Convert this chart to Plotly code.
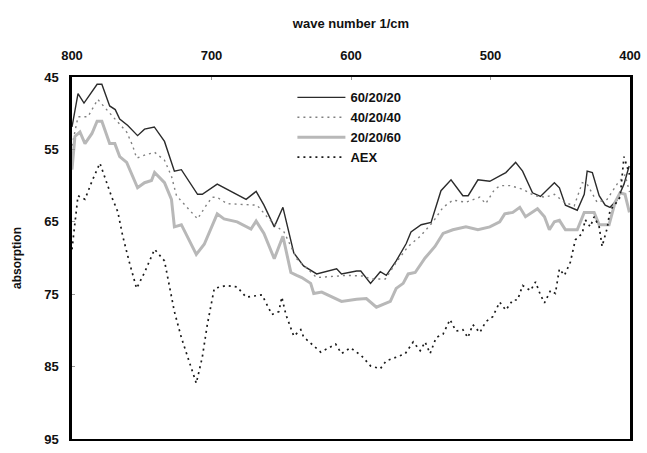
import plotly.graph_objects as go

# 60/20/20
w1 = [800, 795.7, 791.4, 782, 778.6, 773, 769, 765.8, 760, 753, 748, 741, 733.7, 726.6, 721.6, 710, 706.6, 700,
      695.9, 675.2, 668, 662.4, 655, 648.8, 641, 634, 624.6, 610.3, 606.8, 596, 593, 586, 579, 574.7, 567.6,
      560.4, 557, 549.7, 542.6, 535.5, 528.3, 519.8, 516, 509, 500.5, 492.7, 489, 482, 477, 469.9, 464.2,
      454.2, 450.6, 446.3, 437.8, 432.8, 430.7, 427, 422.1, 417.8, 414.3, 409.3, 404.3, 400.6]
v1 = [51.9, 47.3, 48.6, 46, 46, 49, 49.5, 50.8, 51.7, 53.1, 52.2, 51.9, 53.9, 58, 57.8, 61.2, 61.2, 60.3,
      59.8, 61.9, 60.8, 62.7, 65.7, 63, 69.3, 71.1, 72.2, 71.5, 72.2, 71.8, 71.8, 73.5, 71.9, 72.4, 70.4,
      68, 66.4, 65.4, 65.1, 60.7, 59.2, 61.4, 61.4, 59.2, 59.4, 58.6, 58.2, 56.8, 58, 61, 61.5,
      59.6, 60.3, 62.7, 63.4, 61.2, 58, 58.2, 61.4, 62.7, 63, 62, 59.8, 57.3]

# 40/20/40
w2 = [800, 795.7, 788.6, 781.5, 774.3, 768, 760.8, 756.5, 753.7, 748, 740.8, 733.7, 728.7, 725.1, 719.4, 710,
      703.7, 699.5, 696, 688.8, 667.4, 660.2, 653, 648, 638.9, 624.6, 603.2, 591, 586, 575.4, 567.6, 559,
      550.4, 541.2, 534, 526.9, 517.6, 507.7, 503.4, 497, 492.7, 486, 477, 468.4, 460.6, 454.2, 447, 440,
      434.2, 430.7, 423.6, 416.4, 409.3, 403.6, 400.3]
v2 = [54.5, 50.5, 50.5, 48.1, 49.7, 51.1, 52.6, 54.5, 56.2, 55.8, 55.4, 56.5, 58.7, 61.4, 62.6, 64.6,
      62.7, 61.6, 61.6, 62.5, 62.7, 64.3, 65.7, 66.4, 70.1, 72.7, 72.4, 72.5, 72.9, 72.9, 70.6, 68.4,
      67, 65, 63, 62, 62.3, 61.6, 62.5, 60.5, 60, 60, 60.5, 61.4, 61.6, 61.2, 62.3, 62.8,
      59.6, 59.8, 62.3, 61.9, 59.8, 58.5, 60.9]

# 20/20/60
w3 = [800, 797.9, 794.3, 790.7, 785.7, 782, 778.6, 773, 769.3, 765.8, 760.8, 753, 748, 743, 740.8, 733.7,
      728.7, 726.6, 721.6, 710.9, 705.2, 699.5, 695.9, 691, 681.6, 671.7, 668, 662.4, 655, 648.8, 643.1,
      638.9, 635.3, 628.9, 626.7, 621, 606.8, 596, 589, 581.8, 571.8, 567.6, 562.6, 559, 554, 546.9, 539.8,
      534, 527, 517.6, 509, 500.5, 493.4, 489.8, 484, 479, 474.9, 466.3, 461.3, 457.8, 454.2, 450.6, 446.3,
      437.8, 432.8, 425.7, 422.1, 415, 410.7, 407.1, 403.6, 400.4]
v3 = [57.8, 53.2, 52.6, 54.2, 52.8, 51.1, 51.1, 54.2, 54.2, 56, 56.8, 60.3, 59.6, 59.3, 58.2, 59.6,
      61.9, 65.7, 65.4, 69.5, 68.1, 65.4, 63.9, 64.6, 65, 66, 64.9, 66.6, 70.1, 67, 72,
      72.4, 72.7, 73.5, 74.9, 74.7, 76, 75.7, 75.6, 76.8, 76, 74.2, 73.5, 72.2, 72, 70, 68.4,
      66.6, 66.1, 65.7, 66.1, 65.7, 65, 63.9, 63.7, 63, 64.3, 63.2, 64.3, 66.1, 65, 64.8, 66.1,
      66.1, 63.7, 63.7, 65.4, 65.4, 62.3, 61, 61.2, 63.7]

# AEX
w4 = [800, 797.9, 795.7, 790.7, 785.7, 780, 775, 771.5, 767.2, 763.6, 758.6, 753.7, 748, 740.8, 733.7, 730.1,
      726.6, 721.6, 715.9, 710.9, 706.6, 703, 698, 689.5, 681.6, 675.2, 663.8, 656.7, 651.7, 649.6, 646.7,
      641, 636, 634, 621.7, 611, 606.8, 600.4, 592.5, 586, 579, 574.7, 567.6, 561.1, 555.4, 550.4, 546.9,
      543.3, 539, 534, 529, 524.8, 519.8, 516.2, 512.7, 507.7, 503.4, 498.4, 493.4, 489, 484, 480.6, 477,
      471.3, 467.7, 464.2, 461.3, 457, 453.5, 450.6, 447, 442.8, 439.2, 434.2, 432.1, 428.5, 425.7, 422.1,
      420, 416.4, 414.3, 410.7, 407.1, 404.3, 400.3]
v4 = [68.8, 65.3, 61.4, 61.9, 59.4, 56.9, 59.6, 61.6, 63.6, 67, 70.8, 74.2, 72, 68.8, 70.4, 73.8,
      77.4, 81, 84.2, 87.3, 83.7, 79.2, 74.2, 73.8, 74, 75.4, 75.1, 77.8, 77.4, 75.4, 77.8,
      80.8, 79.9, 80.9, 83, 81.9, 83.2, 82.4, 83.5, 84.9, 85.3, 84.2, 83.7, 83.2, 81.6, 82.8, 81.6,
      83.2, 81, 80.5, 78.5, 80.1, 79.9, 81, 79.2, 80.3, 78.8, 78.1, 76.1, 77.2, 75.8, 75.8, 73.8,
      74.5, 73.3, 75.1, 76.2, 74.5, 74.9, 71.5, 72.4, 70.6, 67.5, 66.6, 64.7, 65.7, 64.3, 65.7,
      68.4, 65.9, 63.4, 62.6, 61.6, 56, 58.5]

x_ticks = [800, 700, 600, 500, 400]
y_ticks = [45, 55, 65, 75, 85, 95]

FONT = "Liberation Sans, Arial, sans-serif"

fig = go.Figure()
fig.add_trace(go.Scatter(x=w1, y=v1, mode="lines", name="60/20/20",
                         line=dict(color="#2b2b2b", width=1.4)))
fig.add_trace(go.Scatter(x=w2, y=v2, mode="lines", name="40/20/40",
                         line=dict(color="#808080", width=1.4, dash="2px,4px")))
fig.add_trace(go.Scatter(x=w3, y=v3, mode="lines", name="20/20/60",
                         line=dict(color="#b8b8b8", width=3)))
fig.add_trace(go.Scatter(x=w4, y=v4, mode="lines", name="AEX",
                         line=dict(color="#1a1a1a", width=1.7, dash="2px,4px")))

fig.update_layout(
    width=647, height=453,
    margin=dict(l=72, r=14, t=77, b=6),
    paper_bgcolor="white", plot_bgcolor="white",
    font=dict(family=FONT, size=13, color="#111", weight="bold"),
    showlegend=True,
    legend=dict(x=0.395, y=0.985, xanchor="left", yanchor="top", itemwidth=48,
                bgcolor="rgba(0,0,0,0)", font=dict(size=13, family=FONT, weight="bold"),
                tracegroupgap=2),
    xaxis=dict(
        side="top", range=[800, 400], tickvals=x_ticks, ticktext=[str(t) for t in x_ticks],
        showgrid=False, zeroline=False, showline=True, linecolor="black", linewidth=2, mirror=True,
        ticks="inside", ticklen=3, tickcolor="#999", ticklabelstandoff=10,
        tickfont=dict(size=13, family=FONT, weight="bold"),
        title=dict(text="wave number 1/cm", font=dict(size=13, family=FONT, weight="bold"), standoff=16),
    ),
    yaxis=dict(
        range=[95, 45], tickvals=y_ticks, ticktext=[str(t) for t in y_ticks],
        showgrid=False, zeroline=False, showline=True, linecolor="black", linewidth=2.5, mirror=True,
        ticks="inside", ticklen=3, tickcolor="#999", ticklabelstandoff=8,
        tickfont=dict(size=13, family=FONT, weight="bold"),
        title=dict(text="absorption", font=dict(size=12, family=FONT, weight="bold"), standoff=20),
    ),
)

fig.write_html("out.html")
